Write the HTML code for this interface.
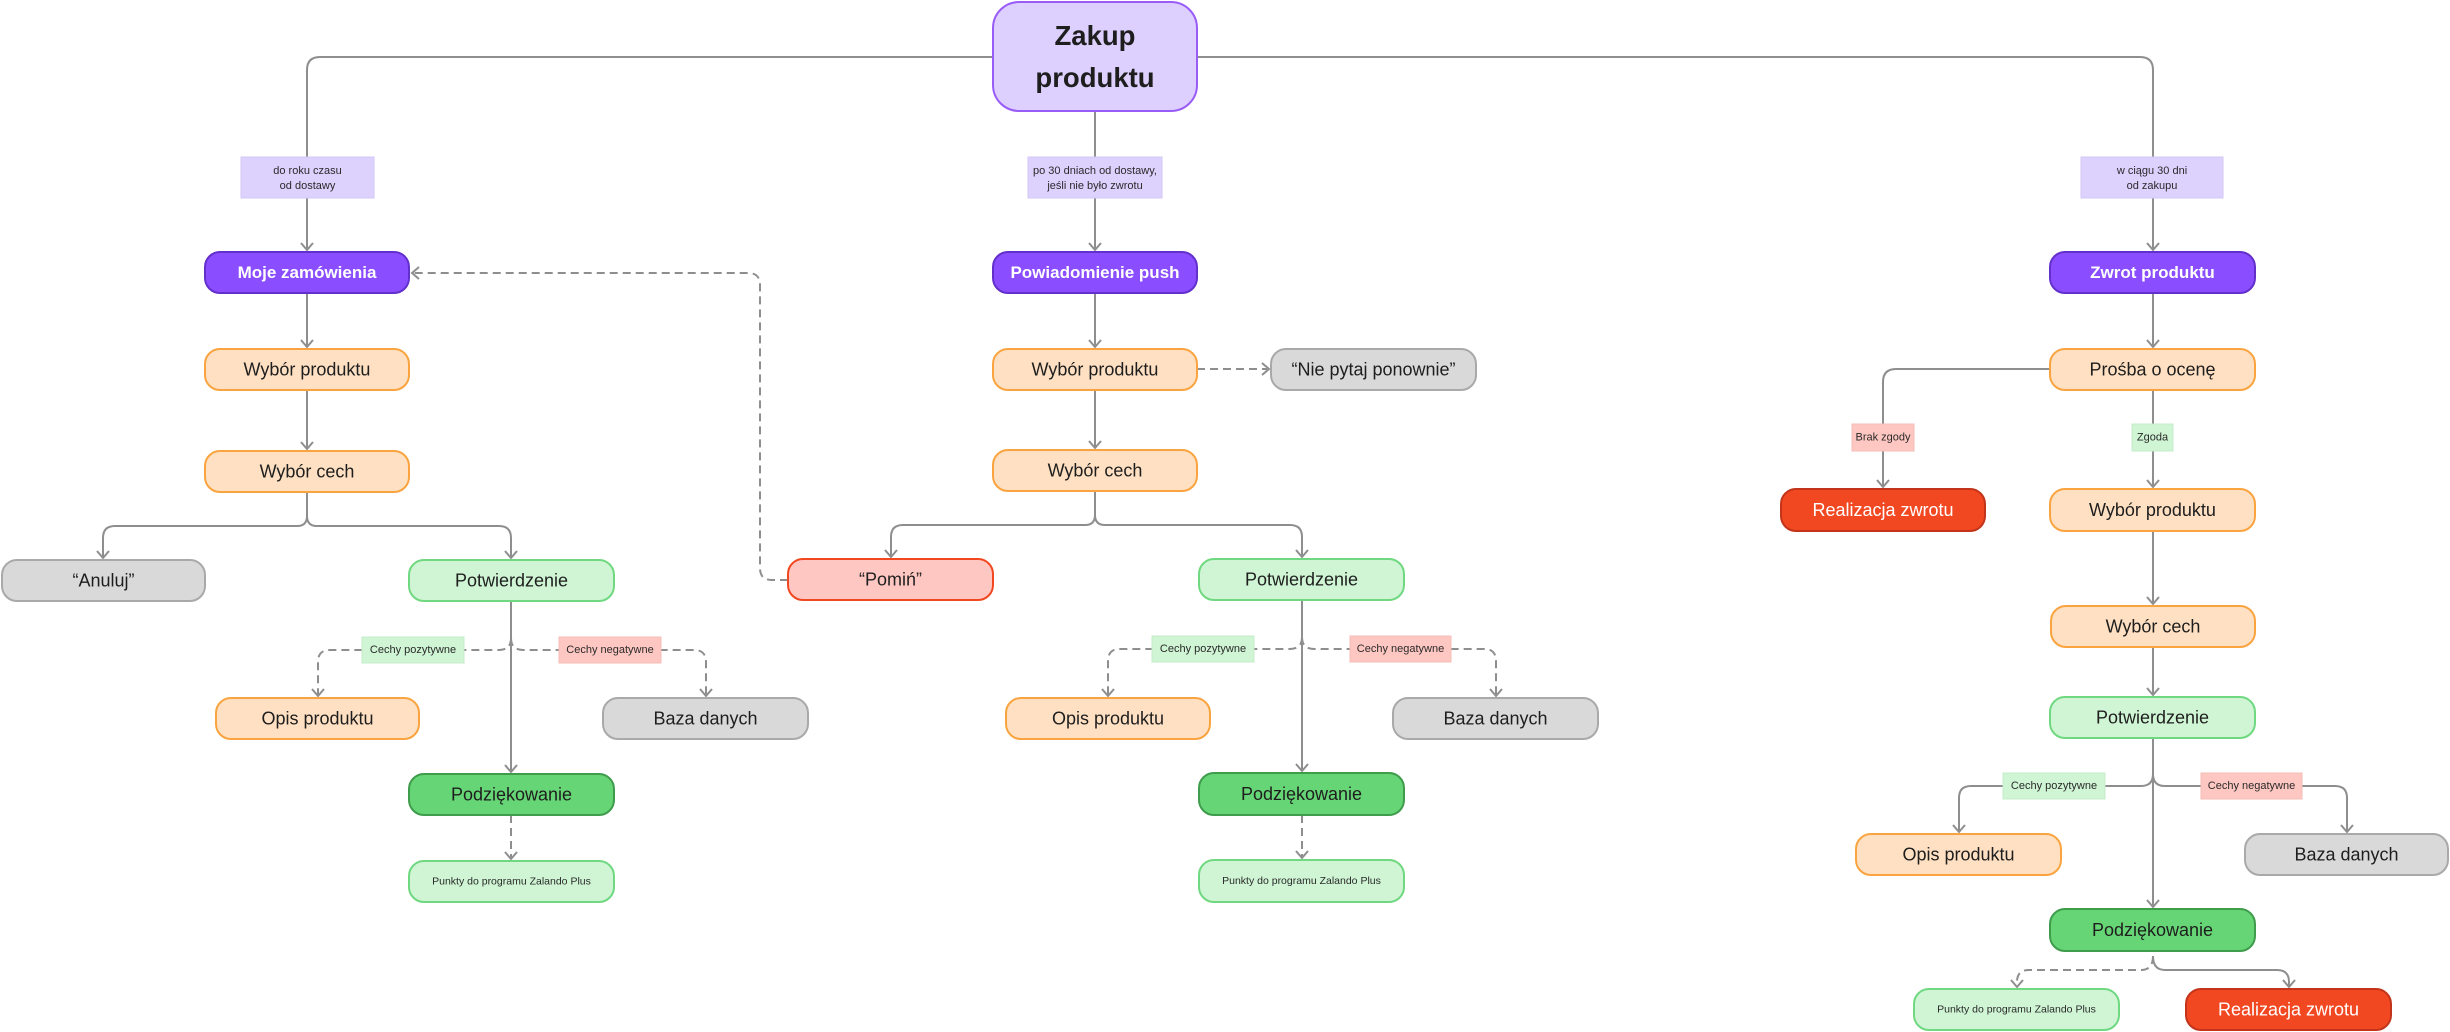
<!DOCTYPE html>
<html>
<head>
<meta charset="utf-8">
<style>
  html,body{margin:0;padding:0;background:#ffffff;}
  body{width:2450px;height:1032px;overflow:hidden;}
  svg{display:block;}
  .t{font-family:"Liberation Sans","Noto Sans CJK SC",sans-serif;fill:#1e1e1e;text-anchor:middle;dominant-baseline:central;font-size:18px;}
  .tb{font-weight:bold;fill:#ffffff;font-size:17px;}
  .tw{fill:#ffffff;}
  .ts{font-size:10.5px;fill:#2a2a2a;}
  .tl{font-size:11px;fill:#2a2a2a;}
  .ln{fill:none;stroke:#8e8e8e;stroke-width:2;}
  .ds{fill:none;stroke:#8e8e8e;stroke-width:2;stroke-dasharray:8 5;}
  .ar{fill:none;stroke:#8e8e8e;stroke-width:2;stroke-linejoin:miter;}
  .or{fill:#ffe0c2;stroke:#f9a43f;stroke-width:2;}
  .lg{fill:#cff5d4;stroke:#70d880;stroke-width:2;}
  .dg{fill:#66d575;stroke:#3f9c4c;stroke-width:2;}
  .gr{fill:#d9d9d9;stroke:#a9a9a9;stroke-width:2;}
  .pu{fill:#8a4dff;stroke:#6330cc;stroke-width:2;}
  .pk{fill:#ffc7c2;stroke:#f24822;stroke-width:2;}
  .rd{fill:#f24822;stroke:#c2351b;stroke-width:2;}
  .lp{fill:#ddd1fe;stroke:#d3c7f6;stroke-width:1;}
  .lgl{fill:#cff5d4;stroke:#c5ecca;stroke-width:1;}
  .lpk{fill:#ffc7c2;stroke:#f5bcb7;stroke-width:1;}
</style>
</head>
<body>
<svg width="2450" height="1032" viewBox="0 0 2450 1032" xmlns="http://www.w3.org/2000/svg">

<!-- ============ CONNECTORS ============ -->
<path class="ln" d="M993 57 H320 Q307 57 307 70 V249"/>
<path class="ln" d="M1197 57 H2140 Q2153 57 2153 70 V249"/>
<path class="ln" d="M1095 111 V249"/>

<!-- left column -->
<path class="ln" d="M307 293 V346"/>
<path class="ln" d="M307 390 V448"/>
<path class="ln" d="M307 492 V516 Q307 526 297 526 H115 Q103 526 103 538 V557"/>
<path class="ln" d="M307 516 Q307 526 317 526 H499 Q511 526 511 538 V557"/>
<path class="ln" d="M511 601 V771"/>
<path class="ds" d="M511 638 Q511 650 499 650 H330 Q318 650 318 662 V695"/>
<path class="ds" d="M511 638 Q511 650 523 650 H694 Q706 650 706 662 V695"/>
<path class="ds" d="M511 815 V858"/>

<path class="ds" d="M788 580 H772 Q760 580 760 568 V285 Q760 273 748 273 H413"/>

<!-- middle column -->
<path class="ln" d="M1095 293 V346"/>
<path class="ln" d="M1095 390 V447"/>
<path class="ds" d="M1197 369 H1267"/>
<path class="ln" d="M1095 491 V515 Q1095 525 1085 525 H903 Q891 525 891 537 V556"/>
<path class="ln" d="M1095 515 Q1095 525 1105 525 H1290 Q1302 525 1302 537 V556"/>
<path class="ln" d="M1302 600 V770"/>
<path class="ds" d="M1302 637 Q1302 649 1290 649 H1120 Q1108 649 1108 661 V695"/>
<path class="ds" d="M1302 637 Q1302 649 1314 649 H1484 Q1496 649 1496 661 V695"/>
<path class="ds" d="M1302 815 V857"/>

<!-- right column -->
<path class="ln" d="M2153 293 V346"/>
<path class="ln" d="M2153 390 V486"/>
<path class="ln" d="M2050 369 H1896 Q1883 369 1883 382 V486"/>
<path class="ln" d="M2153 531 V603"/>
<path class="ln" d="M2153 647 V694"/>
<path class="ln" d="M2153 738 V906"/>
<path class="ln" d="M2153 774 Q2153 786 2141 786 H1971 Q1959 786 1959 798 V831"/>
<path class="ln" d="M2153 774 Q2153 786 2165 786 H2335 Q2347 786 2347 798 V831"/>
<path class="ds" d="M2153 956 Q2153 970 2141 970 H2029 Q2017 970 2017 982 V986"/>
<path class="ln" d="M2153 956 Q2153 970 2165 970 H2277 Q2289 970 2289 982 V986"/>

<g class="ar">
  <path d="M301 243 L307 250 L313 243"/>
  <path d="M1089 243 L1095 250 L1101 243"/>
  <path d="M2147 243 L2153 250 L2159 243"/>
  <path d="M301 340 L307 347 L313 340"/>
  <path d="M301 442 L307 449 L313 442"/>
  <path d="M97 551 L103 558 L109 551"/>
  <path d="M505 551 L511 558 L517 551"/>
  <path d="M505 765 L511 772 L517 765"/>
  <path d="M312 689 L318 696 L324 689"/>
  <path d="M700 689 L706 696 L712 689"/>
  <path d="M505 852 L511 859 L517 852"/>
  <path d="M419 267 L412 273 L419 279"/>
  <path d="M1089 340 L1095 347 L1101 340"/>
  <path d="M1089 441 L1095 448 L1101 441"/>
  <path d="M1262 363 L1269 369 L1262 375"/>
  <path d="M885 550 L891 557 L897 550"/>
  <path d="M1296 550 L1302 557 L1308 550"/>
  <path d="M1296 764 L1302 771 L1308 764"/>
  <path d="M1102 689 L1108 696 L1114 689"/>
  <path d="M1490 689 L1496 696 L1502 689"/>
  <path d="M1296 851 L1302 858 L1308 851"/>
  <path d="M2147 340 L2153 347 L2159 340"/>
  <path d="M2147 480 L2153 487 L2159 480"/>
  <path d="M1877 480 L1883 487 L1889 480"/>
  <path d="M2147 597 L2153 604 L2159 597"/>
  <path d="M2147 688 L2153 695 L2159 688"/>
  <path d="M2147 900 L2153 907 L2159 900"/>
  <path d="M1953 825 L1959 832 L1965 825"/>
  <path d="M2341 825 L2347 832 L2353 825"/>
  <path d="M2011 980 L2017 987 L2023 980"/>
  <path d="M2283 980 L2289 987 L2295 980"/>
</g>

<!-- ============ LABELS ============ -->
<rect class="lp" x="241" y="157" width="133" height="41"/>
<text class="t tl" x="307.5" y="171">do roku czasu</text>
<text class="t tl" x="307.5" y="186">od dostawy</text>

<rect class="lp" x="1028" y="157" width="134" height="41"/>
<text class="t tl" x="1095" y="171">po 30 dniach od dostawy,</text>
<text class="t tl" x="1095" y="186">jeśli nie było zwrotu</text>

<rect class="lp" x="2081" y="157" width="142" height="41"/>
<text class="t tl" x="2152" y="171">w ciągu 30 dni</text>
<text class="t tl" x="2152" y="186">od zakupu</text>

<rect class="lgl" x="362" y="637" width="102" height="26"/>
<text class="t tl" x="413" y="650">Cechy pozytywne</text>
<rect class="lpk" x="559" y="637" width="102" height="26"/>
<text class="t tl" x="610" y="650">Cechy negatywne</text>

<rect class="lgl" x="1152" y="636" width="102" height="26"/>
<text class="t tl" x="1203" y="649">Cechy pozytywne</text>
<rect class="lpk" x="1350" y="636" width="101" height="26"/>
<text class="t tl" x="1400.5" y="649">Cechy negatywne</text>

<rect class="lpk" x="1852" y="424" width="62" height="27"/>
<text class="t tl" x="1883" y="437.5">Brak zgody</text>
<rect class="lgl" x="2132" y="424" width="41" height="27"/>
<text class="t tl" x="2152.5" y="437.5">Zgoda</text>

<rect class="lgl" x="2003" y="773" width="102" height="26"/>
<text class="t tl" x="2054" y="786">Cechy pozytywne</text>
<rect class="lpk" x="2201" y="773" width="101" height="26"/>
<text class="t tl" x="2251.5" y="786">Cechy negatywne</text>

<!-- ============ NODES ============ -->
<rect x="993" y="2" width="204" height="109" rx="26" fill="#ddd0fe" stroke="#9a5cf6" stroke-width="2"/>
<text x="1095" y="45" font-family="Liberation Sans, sans-serif" font-size="27.5" font-weight="bold" fill="#1e1e1e" text-anchor="middle">Zakup</text>
<text x="1095" y="87" font-family="Liberation Sans, sans-serif" font-size="27.5" font-weight="bold" fill="#1e1e1e" text-anchor="middle">produktu</text>

<!-- left column -->
<rect class="pu" x="205" y="252" width="204" height="41" rx="15"/>
<text class="t tb" x="307" y="272.5">Moje zamówienia</text>
<rect class="or" x="205" y="349" width="204" height="41" rx="15"/>
<text class="t" x="307" y="369.5">Wybór produktu</text>
<rect class="or" x="205" y="451" width="204" height="41" rx="15"/>
<text class="t" x="307" y="471.5">Wybór cech</text>
<rect class="gr" x="2" y="560" width="203" height="41" rx="15"/>
<text class="t" x="103.5" y="580.5">“Anuluj”</text>
<rect class="lg" x="409" y="560" width="205" height="41" rx="15"/>
<text class="t" x="511.5" y="580.5">Potwierdzenie</text>
<rect class="or" x="216" y="698" width="203" height="41" rx="15"/>
<text class="t" x="317.5" y="718.5">Opis produktu</text>
<rect class="gr" x="603" y="698" width="205" height="41" rx="15"/>
<text class="t" x="705.5" y="718.5">Baza danych</text>
<rect class="dg" x="409" y="774" width="205" height="41" rx="15"/>
<text class="t" x="511.5" y="794.5">Podziękowanie</text>
<rect class="lg" x="409" y="861" width="205" height="41" rx="15"/>
<text class="t ts" x="511.5" y="881.5">Punkty do programu Zalando Plus</text>

<!-- middle column -->
<rect class="pu" x="993" y="252" width="204" height="41" rx="15"/>
<text class="t tb" x="1095" y="272.5">Powiadomienie push</text>
<rect class="or" x="993" y="349" width="204" height="41" rx="15"/>
<text class="t" x="1095" y="369.5">Wybór produktu</text>
<rect class="gr" x="1271" y="349" width="205" height="41" rx="15"/>
<text class="t" x="1373.5" y="369.5">“Nie pytaj ponownie”</text>
<rect class="or" x="993" y="450" width="204" height="41" rx="15"/>
<text class="t" x="1095" y="470.5">Wybór cech</text>
<rect class="pk" x="788" y="559" width="205" height="41" rx="15"/>
<text class="t" x="890.5" y="579.5">“Pomiń”</text>
<rect class="lg" x="1199" y="559" width="205" height="41" rx="15"/>
<text class="t" x="1301.5" y="579.5">Potwierdzenie</text>
<rect class="or" x="1006" y="698" width="204" height="41" rx="15"/>
<text class="t" x="1108" y="718.5">Opis produktu</text>
<rect class="gr" x="1393" y="698" width="205" height="41" rx="15"/>
<text class="t" x="1495.5" y="718.5">Baza danych</text>
<rect class="dg" x="1199" y="773" width="205" height="42" rx="15"/>
<text class="t" x="1301.5" y="794">Podziękowanie</text>
<rect class="lg" x="1199" y="860" width="205" height="42" rx="15"/>
<text class="t ts" x="1301.5" y="881">Punkty do programu Zalando Plus</text>

<!-- right column -->
<rect class="pu" x="2050" y="252" width="205" height="41" rx="15"/>
<text class="t tb" x="2152.5" y="272.5">Zwrot produktu</text>
<rect class="or" x="2050" y="349" width="205" height="41" rx="15"/>
<text class="t" x="2152.5" y="369.5">Prośba o ocenę</text>
<rect class="rd" x="1781" y="489" width="204" height="42" rx="15"/>
<text class="t tw" x="1883" y="510">Realizacja zwrotu</text>
<rect class="or" x="2050" y="489" width="205" height="42" rx="15"/>
<text class="t" x="2152.5" y="510">Wybór produktu</text>
<rect class="or" x="2051" y="606" width="204" height="41" rx="15"/>
<text class="t" x="2153" y="626.5">Wybór cech</text>
<rect class="lg" x="2050" y="697" width="205" height="41" rx="15"/>
<text class="t" x="2152.5" y="717.5">Potwierdzenie</text>
<rect class="or" x="1856" y="834" width="205" height="41" rx="15"/>
<text class="t" x="1958.5" y="854.5">Opis produktu</text>
<rect class="gr" x="2245" y="834" width="203" height="41" rx="15"/>
<text class="t" x="2346.5" y="854.5">Baza danych</text>
<rect class="dg" x="2050" y="909" width="205" height="42" rx="15"/>
<text class="t" x="2152.5" y="930">Podziękowanie</text>
<rect class="lg" x="1914" y="989" width="205" height="41" rx="15"/>
<text class="t ts" x="2016.5" y="1009.5">Punkty do programu Zalando Plus</text>
<rect class="rd" x="2186" y="989" width="205" height="41" rx="15"/>
<text class="t tw" x="2288.5" y="1009.5">Realizacja zwrotu</text>

</svg>
</body>
</html>
